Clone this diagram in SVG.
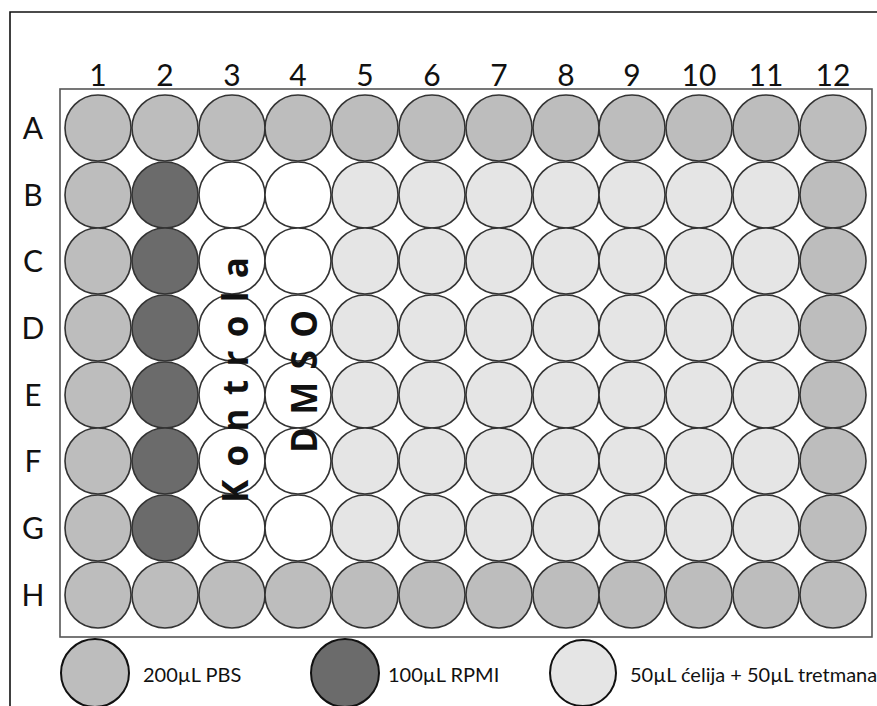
<svg xmlns="http://www.w3.org/2000/svg" width="877" height="706" viewBox="0 0 877 706">
<style>
.lbl{font-family:Lato,"Open Sans","Liberation Sans",sans-serif;font-size:30px;fill:#111;text-anchor:middle}
.w{stroke:#333;stroke-width:1.6}
.pbs{fill:#bdbdbd}.rp{fill:#6b6b6b}.ce{fill:#e5e5e5}.wh{fill:#fff}
.lg{stroke:#111;stroke-width:2}
.lt{font-family:Lato,"Open Sans","Liberation Sans",sans-serif;font-size:20px;fill:#111}
.vt{font-family:"Open Sans","Liberation Sans",sans-serif;font-weight:bold;font-size:35px;fill:#111}
</style>
<rect width="877" height="706" fill="#fff"/>
<path d="M10 706V12H877" fill="none" stroke="#111" stroke-width="1.6"/>
<rect x="60" y="89" width="812" height="548" fill="#fff" stroke="#555" stroke-width="1.6"/>
<g id="colLabels">
<text class="lbl" x="98" y="86">1</text><text class="lbl" x="165" y="86">2</text><text class="lbl" x="232" y="86">3</text><text class="lbl" x="298" y="86">4</text><text class="lbl" x="365" y="86">5</text><text class="lbl" x="432" y="86">6</text><text class="lbl" x="499" y="86">7</text><text class="lbl" x="566" y="86">8</text><text class="lbl" x="632" y="86">9</text><text class="lbl" x="699" y="86">10</text><text class="lbl" x="766" y="86">11</text><text class="lbl" x="833" y="86">12</text>
</g>
<g id="rowLabels">
<text class="lbl" x="33" y="139">A</text><text class="lbl" x="33" y="206">B</text><text class="lbl" x="33" y="272">C</text><text class="lbl" x="33" y="339">D</text><text class="lbl" x="33" y="406">E</text><text class="lbl" x="33" y="472">F</text><text class="lbl" x="33" y="539">G</text><text class="lbl" x="33" y="606">H</text>
</g>
<g id="wells" class="w">
<!-- Row A -->
<circle class="pbs" cx="98" cy="128" r="33"/><circle class="pbs" cx="165" cy="128" r="33"/><circle class="pbs" cx="232" cy="128" r="33"/><circle class="pbs" cx="298" cy="128" r="33"/><circle class="pbs" cx="365" cy="128" r="33"/><circle class="pbs" cx="432" cy="128" r="33"/><circle class="pbs" cx="499" cy="128" r="33"/><circle class="pbs" cx="566" cy="128" r="33"/><circle class="pbs" cx="632" cy="128" r="33"/><circle class="pbs" cx="699" cy="128" r="33"/><circle class="pbs" cx="766" cy="128" r="33"/><circle class="pbs" cx="833" cy="128" r="33"/>
<!-- Row B -->
<circle class="pbs" cx="98" cy="195" r="33"/><circle class="rp" cx="165" cy="195" r="33"/><circle class="wh" cx="232" cy="195" r="33"/><circle class="wh" cx="298" cy="195" r="33"/><circle class="ce" cx="365" cy="195" r="33"/><circle class="ce" cx="432" cy="195" r="33"/><circle class="ce" cx="499" cy="195" r="33"/><circle class="ce" cx="566" cy="195" r="33"/><circle class="ce" cx="632" cy="195" r="33"/><circle class="ce" cx="699" cy="195" r="33"/><circle class="ce" cx="766" cy="195" r="33"/><circle class="pbs" cx="833" cy="195" r="33"/>
<!-- Row C -->
<circle class="pbs" cx="98" cy="261" r="33"/><circle class="rp" cx="165" cy="261" r="33"/><circle class="wh" cx="232" cy="261" r="33"/><circle class="wh" cx="298" cy="261" r="33"/><circle class="ce" cx="365" cy="261" r="33"/><circle class="ce" cx="432" cy="261" r="33"/><circle class="ce" cx="499" cy="261" r="33"/><circle class="ce" cx="566" cy="261" r="33"/><circle class="ce" cx="632" cy="261" r="33"/><circle class="ce" cx="699" cy="261" r="33"/><circle class="ce" cx="766" cy="261" r="33"/><circle class="pbs" cx="833" cy="261" r="33"/>
<!-- Row D -->
<circle class="pbs" cx="98" cy="328" r="33"/><circle class="rp" cx="165" cy="328" r="33"/><circle class="wh" cx="232" cy="328" r="33"/><circle class="wh" cx="298" cy="328" r="33"/><circle class="ce" cx="365" cy="328" r="33"/><circle class="ce" cx="432" cy="328" r="33"/><circle class="ce" cx="499" cy="328" r="33"/><circle class="ce" cx="566" cy="328" r="33"/><circle class="ce" cx="632" cy="328" r="33"/><circle class="ce" cx="699" cy="328" r="33"/><circle class="ce" cx="766" cy="328" r="33"/><circle class="pbs" cx="833" cy="328" r="33"/>
<!-- Row E -->
<circle class="pbs" cx="98" cy="395" r="33"/><circle class="rp" cx="165" cy="395" r="33"/><circle class="wh" cx="232" cy="395" r="33"/><circle class="wh" cx="298" cy="395" r="33"/><circle class="ce" cx="365" cy="395" r="33"/><circle class="ce" cx="432" cy="395" r="33"/><circle class="ce" cx="499" cy="395" r="33"/><circle class="ce" cx="566" cy="395" r="33"/><circle class="ce" cx="632" cy="395" r="33"/><circle class="ce" cx="699" cy="395" r="33"/><circle class="ce" cx="766" cy="395" r="33"/><circle class="pbs" cx="833" cy="395" r="33"/>
<!-- Row F -->
<circle class="pbs" cx="98" cy="461" r="33"/><circle class="rp" cx="165" cy="461" r="33"/><circle class="wh" cx="232" cy="461" r="33"/><circle class="wh" cx="298" cy="461" r="33"/><circle class="ce" cx="365" cy="461" r="33"/><circle class="ce" cx="432" cy="461" r="33"/><circle class="ce" cx="499" cy="461" r="33"/><circle class="ce" cx="566" cy="461" r="33"/><circle class="ce" cx="632" cy="461" r="33"/><circle class="ce" cx="699" cy="461" r="33"/><circle class="ce" cx="766" cy="461" r="33"/><circle class="pbs" cx="833" cy="461" r="33"/>
<!-- Row G -->
<circle class="pbs" cx="98" cy="528" r="33"/><circle class="rp" cx="165" cy="528" r="33"/><circle class="wh" cx="232" cy="528" r="33"/><circle class="wh" cx="298" cy="528" r="33"/><circle class="ce" cx="365" cy="528" r="33"/><circle class="ce" cx="432" cy="528" r="33"/><circle class="ce" cx="499" cy="528" r="33"/><circle class="ce" cx="566" cy="528" r="33"/><circle class="ce" cx="632" cy="528" r="33"/><circle class="ce" cx="699" cy="528" r="33"/><circle class="ce" cx="766" cy="528" r="33"/><circle class="pbs" cx="833" cy="528" r="33"/>
<!-- Row H -->
<circle class="pbs" cx="98" cy="595" r="33"/><circle class="pbs" cx="165" cy="595" r="33"/><circle class="pbs" cx="232" cy="595" r="33"/><circle class="pbs" cx="298" cy="595" r="33"/><circle class="pbs" cx="365" cy="595" r="33"/><circle class="pbs" cx="432" cy="595" r="33"/><circle class="pbs" cx="499" cy="595" r="33"/><circle class="pbs" cx="566" cy="595" r="33"/><circle class="pbs" cx="632" cy="595" r="33"/><circle class="pbs" cx="699" cy="595" r="33"/><circle class="pbs" cx="766" cy="595" r="33"/><circle class="pbs" cx="833" cy="595" r="33"/>
</g>
<g id="kontrola">
<text class="vt" transform="translate(248,503) rotate(-90)" textLength="246" lengthAdjust="spacing">Kontrola</text>
</g>
<g id="dmso">
<text class="vt" transform="translate(317,453) rotate(-90)" textLength="143" lengthAdjust="spacing">DMSO</text>
</g>
<g id="legend">
<circle class="pbs lg" cx="95" cy="673" r="34"/>
<text class="lt" x="143" y="682">200µL PBS</text>
<circle class="rp lg" cx="345" cy="673" r="34"/>
<text class="lt" x="388" y="682">100µL RPMI</text>
<circle class="ce lg" cx="583" cy="673" r="33"/>
<text class="lt" x="630" y="682">50µL ćelija + 50µL tretmana</text>
</g>
</svg>
